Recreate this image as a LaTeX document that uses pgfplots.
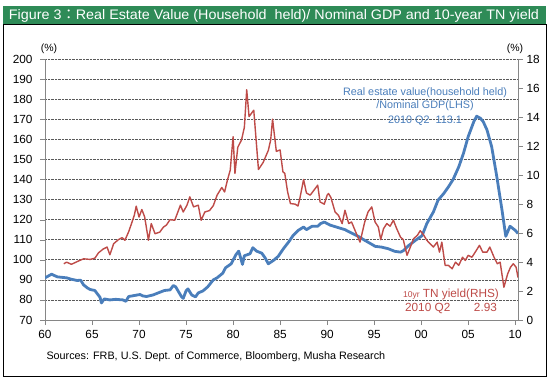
\documentclass[border=0pt]{standalone}
\usepackage{pgfplots}
\pgfplotsset{compat=1.18}
\usepackage{fontspec}
\setmainfont{Liberation Sans}
\newfontfamily\cjk{Noto Sans CJK JP}
\definecolor{reblue}{RGB}{74,126,187}
\definecolor{rered}{RGB}{190,75,72}
\definecolor{bannergreen}{RGB}{46,139,87}
\definecolor{axgray}{RGB}{134,134,134}
\begin{document}
\begin{tikzpicture}[x=1pt,y=1pt]
\fill[white] (0,0) rectangle (553,381);
\fill[bannergreen] (3,356) rectangle (546,375);
\draw[black, line width=1pt] (3,5) rectangle (546,356);
\node[white, inner sep=0pt] at (274,365.5) {\resizebox{530pt}{10pt}{Figure 3{\cjk ：}Real Estate Value (Household\ \ held)/ Nominal GDP and 10-year TN yield}};

\pgfplotsset{every axis/.append style={
  scale only axis, width=473pt, height=261pt,
  at={(45pt,61pt)}, anchor=south west,
  xmin=1960, xmax=2010.3,
  tick align=outside, major tick length=5pt,
  axis line style={axgray},
  tick style={axgray},
  /pgf/number format/assume math mode=true,
  tick label style={font=\fontsize{11.8}{13}\selectfont, black},
}}

\begin{axis}[
  ymin=70, ymax=200,
  axis x line*=bottom, axis y line*=left,
  ytick={70,80,...,200},
  xtick={1960,1965,...,2010},
  xticklabels={60,65,70,75,80,85,90,95,00,05,10},
  ymajorgrids, grid style={densely dotted, black!65, line width=0.6pt},
  yticklabel style={xshift=-4pt},
  xticklabel style={yshift=-2pt},
]
\addplot[reblue, line width=2.8pt, line join=round] coordinates {
(1960.0,91)(1960.7,92.8)(1961.3,91.5)(1962.3,91)(1962.8,90.3)(1963.4,89.7)(1963.8,89.8)
(1964.1,87.5)(1964.5,86)(1964.8,85.2)(1965.3,84.7)(1965.85,81.3)(1966.0,78.5)(1966.3,80.5)
(1966.9,80)(1967.5,80.3)(1968.3,80)(1968.6,79.3)(1968.9,81.7)(1969.5,82.2)(1970.1,82.7)
(1970.4,82)(1970.8,81.7)(1971.5,82.5)(1972.2,83.8)(1972.7,84.7)(1973.3,85)(1973.65,87.2)
(1973.9,86.5)(1974.5,81.7)(1974.7,80.8)(1975.0,84.5)(1975.2,85.5)(1975.6,82.5)(1976.0,81.5)
(1976.3,83.5)(1976.8,84.5)(1977.3,86.5)(1977.9,90)(1978.3,91)(1978.9,93.3)(1979.2,96)
(1979.8,98)(1980.3,102.5)(1980.6,104.3)(1981.0,97.7)(1981.2,102)(1981.8,103)(1982.1,106)
(1982.5,104.3)(1983.05,103.3)(1983.4,101)(1983.75,98)(1984.3,99.7)(1984.8,101.7)(1985.35,105.5)
(1985.9,108.8)(1986.4,112.2)(1986.95,114.7)(1987.5,116.3)(1987.8,115)(1988.4,116.7)(1989.0,116.7)
(1989.3,118)(1989.7,118.8)(1990.3,117.3)(1991.2,116)(1991.9,115)(1992.6,113.3)(1993.3,111.7)
(1994.0,109.7)(1994.75,107.7)(1995.1,106.7)(1995.8,106.3)(1996.5,105.5)(1997.2,104.2)(1997.8,103.8)
(1998.1,104.5)(1998.65,107)(1999.4,109.7)(2000.1,112)(2000.6,118)(2001.3,123.8)(2001.8,129.7)
(2002.4,133)(2002.9,136.3)(2003.4,140)(2004.0,146.3)(2004.5,153)(2005.0,161.3)(2005.6,168.8)
(2005.9,171.5)(2006.3,170.5)(2006.6,168.8)(2007.0,164.7)(2007.5,156.3)(2008.05,141.3)(2008.6,124.7)
(2009.0,111.7)(2009.45,116.7)(2010.0,114.7)(2010.3,113.1)
};
\end{axis}

\begin{axis}[
  ymin=0, ymax=18,
  axis x line=none, axis y line*=right,
  ytick={0,2,...,18},
  yticklabel style={xshift=0pt},
]
\addplot[rered, line width=1.4pt, line join=round] coordinates {
(1962.0,3.88)(1962.3,3.99)(1962.8,3.84)(1963.3,3.99)(1963.7,4.11)(1964.1,4.22)(1964.8,4.18)(1965.3,4.26)
(1965.7,4.64)(1966.2,4.90)(1966.6,5.03)(1966.9,4.50)(1967.3,5.26)(1967.8,5.54)(1968.2,5.68)(1968.5,5.50)
(1968.9,6.09)(1969.2,6.65)(1969.5,7.23)(1969.7,7.85)(1970.0,7.10)(1970.3,7.62)(1970.6,7.10)(1971.0,5.50)
(1971.3,6.65)(1971.7,5.95)(1972.2,6.06)(1972.6,6.41)(1972.9,6.54)(1973.3,6.92)(1973.8,6.88)(1974.4,7.92)
(1974.7,7.45)(1975.1,7.92)(1975.4,8.49)(1975.8,7.80)(1976.3,7.92)(1976.6,6.88)(1977.0,7.45)(1977.5,7.55)
(1977.9,7.89)(1978.3,8.61)(1978.8,9.14)(1979.1,8.83)(1979.4,9.65)(1979.7,10.34)(1980.0,12.64)(1980.2,10.11)
(1980.5,11.91)(1980.9,12.42)(1981.2,13.29)(1981.45,15.88)(1981.7,14.03)(1982.2,14.47)(1982.7,10.38)
(1983.2,10.87)(1983.75,11.70)(1984.0,12.42)(1984.2,13.85)(1984.6,11.63)(1985.0,11.73)(1985.3,10.22)
(1985.5,10.11)(1985.8,8.83)(1986.1,8.03)(1986.6,7.99)(1986.9,7.86)(1987.1,8.38)(1987.5,9.69)(1987.8,8.76)
(1988.2,8.61)(1988.6,8.95)(1989.0,9.30)(1989.25,8.14)(1989.7,7.99)(1990.0,8.61)(1990.15,8.72)(1990.4,8.45)
(1990.85,7.45)(1991.2,7.23)(1991.6,6.65)(1991.9,7.57)(1992.3,6.65)(1992.6,6.76)(1993.0,6.13)(1993.5,5.37)
(1994.0,6.76)(1994.35,7.45)(1994.75,7.80)(1995.1,6.76)(1995.45,6.41)(1995.7,5.54)(1996.0,6.30)(1996.35,6.65)
(1996.7,6.47)(1997.05,6.88)(1997.4,6.30)(1997.8,5.72)(1998.1,5.54)(1998.5,4.46)(1998.85,5.03)(1999.2,5.61)
(1999.6,5.84)(1999.9,6.16)(2000.25,5.88)(2000.6,5.50)(2000.95,5.26)(2001.3,5.03)(2001.7,5.37)(2001.95,4.68)
(2002.2,5.37)(2002.55,3.77)(2002.9,3.77)(2003.3,3.53)(2003.65,3.99)(2004.0,3.77)(2004.4,4.33)(2004.7,4.11)
(2005.0,4.46)(2005.4,4.33)(2005.75,4.68)(2006.2,5.15)(2006.55,4.68)(2007.0,4.68)(2007.3,5.03)(2007.75,4.33)
(2008.1,3.88)(2008.4,3.99)(2008.8,2.26)(2009.2,3.18)(2009.5,3.64)(2009.8,3.88)(2010.1,3.64)(2010.3,2.93)
};
\end{axis}

\node[font=\fontsize{10.5}{12}\selectfont] at (49,332) {(\%)};
\node[font=\fontsize{10.5}{12}\selectfont] at (515,332) {(\%)};
\node[reblue, font=\fontsize{10.8}{12}\selectfont] at (425,288) {Real estate value(household held)};
\node[reblue, font=\fontsize{10.8}{12}\selectfont] at (425,275.3) {/Nominal GDP(LHS)};
\node[reblue, font=\fontsize{10.8}{12}\selectfont] at (425,260.3) {2010 Q2\ \ 113.1};
\node[rered, font=\fontsize{11.8}{13}\selectfont] at (451,87) {{\fontsize{8.5}{9}\selectfont 10yr} TN yield(RHS)};
\node[rered, font=\fontsize{11.8}{13}\selectfont] at (451,73) {2010 Q2\qquad 2.93};
\node[anchor=west, font=\fontsize{10.8}{12}\selectfont] at (43,24) {Sources: FRB, U.S. Dept. of Commerce, Bloomberg, Musha Research};
\end{tikzpicture}
\end{document}
